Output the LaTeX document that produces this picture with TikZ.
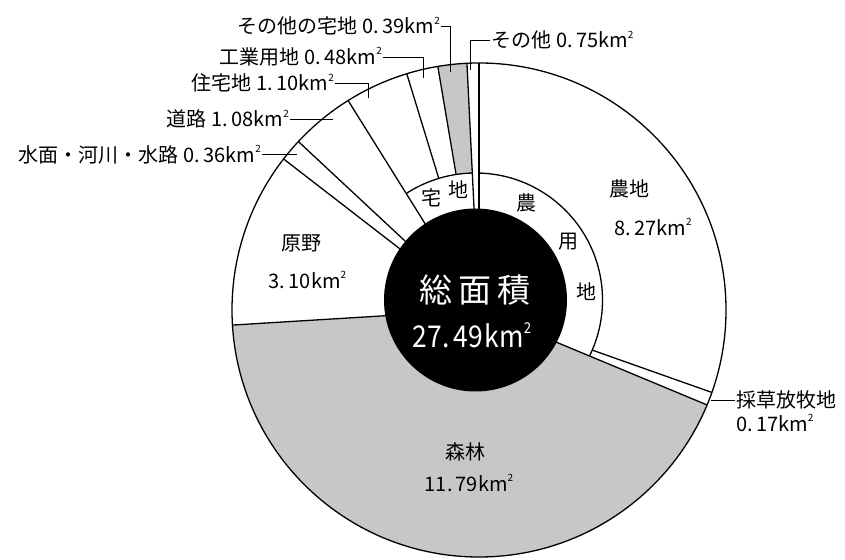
\documentclass[tikz,border=0pt]{standalone}
\usepackage{fontspec}
\setmainfont{Noto Sans CJK JP}
\usetikzlibrary{calc}
\definecolor{landgray}{gray}{0.78}
\newcommand{\sqkm}{km\raisebox{0.48em}{\scalebox{0.5}{2}}}

\begin{document}
\begin{tikzpicture}[x=1pt, y=1pt,
    part/.style={line width=1.3pt},
    leader/.style={line width=0.8pt},
    label/.style={font=\fontsize{20}{24}\selectfont, inner sep=1pt}]
  \useasboundingbox (0, 0) rectangle (845, 559);
  \coordinate (c) at (479, 249);
  \coordinate (m) at (475.5, 259);
  % shaded parts
  \fill [landgray] (c) -- ++(-22.6:247pt) arc [start angle=-22.6, end angle=-176.5, radius=247pt] -- cycle;
  \fill [landgray] (c) -- ++(92.8:247pt) arc [start angle=92.8, end angle=99.6, radius=247pt] -- cycle;
  % lines that stop at the inner ring
  \foreach \a in {-19.5, 107, 99.6}
    \draw [part] (c) -- ++(\a:247pt);
  % inner ring
  \begin{scope}
    \clip (c) -- ++(92.8:300pt) arc [start angle=92.8, end angle=122, radius=300pt] -- cycle;
    \fill [white] (m) circle [radius=127pt];
    \draw [part] (m) circle [radius=127pt];
  \end{scope}
  \begin{scope}
    \clip (c) -- ++(-22.6:300pt) arc [start angle=-22.6, end angle=90, radius=300pt] -- cycle;
    \fill [white] (m) circle [radius=127pt];
    \draw [part] (m) circle [radius=127pt];
  \end{scope}
  \foreach \a in {90, 92.8, 122, 137, 142.3, 183.5, -22.6}
    \draw [part] (c) -- ++(\a:247pt);
  \draw [part] (c) circle [radius=247pt];
  \fill (m) circle [radius=91.5pt];

  % centre
  \node [font=\fontsize{33}{36}\selectfont, white] (total) at (475, 269) {総\hspace{6pt}面\hspace{6pt}積};
  \node [font=\fontsize{30}{34}\selectfont, white] (totalval) at (472, 224) {\scalebox{0.88}[1]{27.\,49\hspace{2pt}\sqkm}};

  % ring texts
  \node [label] (resA) at (431.7, 360.7) {宅};
  \node [label] (resB) at (458.3, 369) {地};
  \node [label] (farmA) at (526.7, 355.7) {農};
  \node [label] (farmB) at (568.3, 317.3) {用};
  \node [label] (farmC) at (586.7, 267.3) {地};

  % texts in the parts
  \node [label] (field) at (629, 370) {農地};
  \node [label] (fieldval) at (653, 332) {8.\,27\sqkm};
  \node [label] (wild) at (301.7, 316) {原野};
  \node [label] (wildval) at (307.5, 279) {3.\,10\sqkm};
  \node [label] (forest) at (465, 107.3) {森林};
  \node [label] (forestval) at (469, 75.7) {11.\,79\sqkm};

  % outside texts
  \node [label, anchor=east] (otherres) at (441, 533) {その他の宅地\hspace{5pt}0.\,39\sqkm};
  \node [label, anchor=east] (indus) at (383, 502) {工業用地\hspace{5pt}0.\,48\sqkm};
  \node [label, anchor=east] (house) at (335, 476) {住宅地\hspace{5pt}1.\,10\sqkm};
  \node [label, anchor=east] (road) at (290, 440) {道路\hspace{5pt}1.\,08\sqkm};
  \node [label, anchor=east] (water) at (262, 404.5) {水面・河川・水路\hspace{5pt}0.\,36\sqkm};
  \node [label, anchor=west] (other) at (490, 519) {その他\hspace{5pt}0.\,75\sqkm};
  \node [label, anchor=west] (meadow) at (735, 159) {採草放牧地};
  \node [label, anchor=west] (meadowval) at (735, 136) {0.\,17\sqkm};

  \coordinate (potherres) at (450, 487);
  \coordinate (pindus) at (423.3, 480.7);
  \coordinate (phouse) at (368.3, 460.7);
  \coordinate (proad) at (333, 440);
  \coordinate (pwater) at (296.7, 404.5);
  \coordinate (pother) at (470.7, 489);
  \coordinate (pmeadow) at (711, 159);

  \draw [leader] (otherres.east) -| (potherres);
  \draw [leader] (indus.east) -| (pindus);
  \draw [leader] (house.east) -| (phouse);
  \draw [leader] (road.east) -- (proad);
  \draw [leader] (water.east) -- (pwater);
  \draw [leader] (other.west) -| (pother);
  \draw [leader] (meadow.west) -- (pmeadow);
\end{tikzpicture}
\end{document}
